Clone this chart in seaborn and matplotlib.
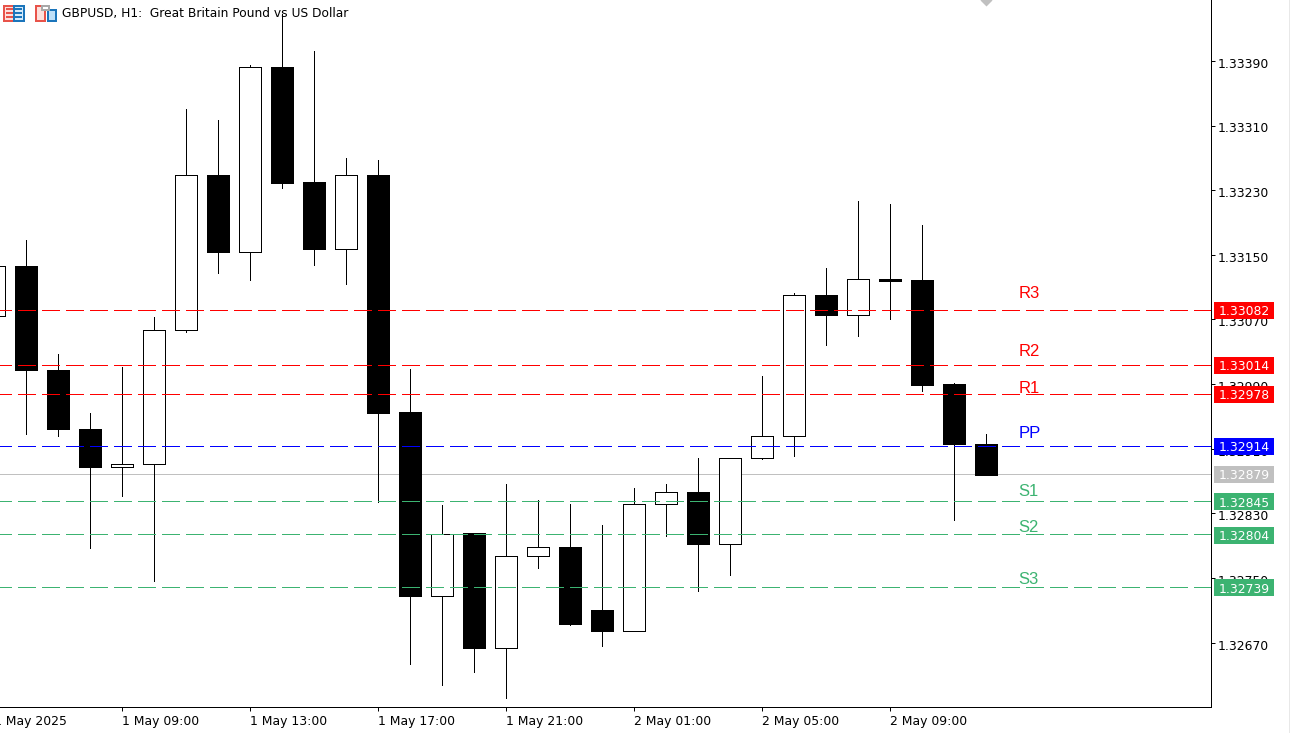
import matplotlib
matplotlib.use("Agg")
import matplotlib.pyplot as plt
import matplotlib.transforms as mtrans
from matplotlib.patches import Rectangle
import pandas as pd
import seaborn as sns

# hourly candles, GBPUSD H1
candle_ids = list(range(-1, 31))
opens = [1.33074, 1.33136, 1.33007, 1.32935, 1.32887, 1.32891, 1.33057, 1.33249,
         1.33153, 1.33383, 1.33240, 1.33157, 1.33249, 1.32955, 1.32728, 1.32806,
         1.32664, 1.32777, 1.32789, 1.32710, 1.32684, 1.32842, 1.32857, 1.32792,
         1.32899, 1.32926, 1.33100, 1.33076, 1.33120, 1.33119, 1.32990, 1.32916]
closes = [1.33136, 1.33007, 1.32934, 1.32887, 1.32891, 1.33057, 1.33249, 1.33153,
          1.33383, 1.33239, 1.33157, 1.33249, 1.32954, 1.32728, 1.32804, 1.32664,
          1.32777, 1.32789, 1.32693, 1.32684, 1.32842, 1.32857, 1.32792, 1.32899,
          1.32926, 1.33100, 1.33076, 1.33120, 1.33118, 1.32989, 1.32916, 1.32878]
highs = [1.33136, 1.33168, 1.33027, 1.32954, 1.33011, 1.33073, 1.33330, 1.33317,
         1.33385, 1.33448, 1.33402, 1.33270, 1.33267, 1.33009, 1.32840, 1.32806,
         1.32867, 1.32847, 1.32842, 1.32816, 1.32862, 1.32866, 1.32899, 1.32899,
         1.33000, 1.33103, 1.33134, 1.33217, 1.33213, 1.33187, 1.32991, 1.32928]
lows = [1.33074, 1.32928, 1.32926, 1.32787, 1.32852, 1.32746, 1.33055, 1.33127,
        1.33119, 1.33233, 1.33138, 1.33114, 1.32844, 1.32644, 1.32618, 1.32634,
        1.32601, 1.32762, 1.32692, 1.32666, 1.32684, 1.32802, 1.32734, 1.32754,
        1.32897, 1.32901, 1.33039, 1.33049, 1.33071, 1.32981, 1.32822, 1.32877]

# pivot levels and the labels over them
level_names = ["R3", "R2", "R1", "PP", "S1", "S2", "S3"]
level_prices = [1.33082, 1.33014, 1.32978, 1.32914, 1.32845, 1.32804, 1.32739]
level_colors = ["#ff0000", "#ff0000", "#ff0000", "#0000ff", "#3cb371", "#3cb371", "#3cb371"]
label_prices = [1.33097, 1.33025, 1.32979, 1.32923, 1.32851, 1.32807, 1.32743]
label_candle = 31
bid_price = 1.32879

price_ticks = [1.33390, 1.33310, 1.33230, 1.33150, 1.33070, 1.32990,
               1.32910, 1.32830, 1.32750, 1.32670]
time_candles = [3, 7, 11, 15, 19, 23, 27]
time_labels = ["1 May 09:00", "1 May 13:00", "1 May 17:00",
               "1 May 21:00", "2 May 01:00", "2 May 05:00", "2 May 09:00"]
first_time_candle = -1
first_time_label = "1 May 2025"
title = "GBPUSD, H1:  Great Britain Pound vs US Dollar"

sns.set_theme(style="white")
plt.rcParams["font.family"] = ["DejaVu Sans"]
plt.rcParams["lines.scale_dashes"] = False
PX = 0.72

fig = plt.figure(figsize=(12.9, 7.33), dpi=100, facecolor="white")
ax = fig.add_axes([0, 26 / 733, 1211 / 1290, 707 / 733])

candles = pd.DataFrame({"id": candle_ids, "open": opens, "close": closes,
                        "high": highs, "low": lows})
wicks = candles.melt(id_vars="id", value_vars=["high", "low"], value_name="price")
sns.lineplot(data=wicks, x="id", y="price", units="id", estimator=None, sort=False,
             color="black", lw=PX, antialiased=False, ax=ax, zorder=2, legend=False)

# bid line sits behind the candles
ax.axhline(bid_price, color="#c0c0c0", lw=PX, antialiased=False, zorder=1)

for row in candles.itertuples():
    up = row.close >= row.open
    ax.bar(row.id, abs(row.close - row.open), bottom=min(row.open, row.close), width=22 / 32,
           facecolor="white" if up else "black", edgecolor="black", linewidth=PX,
           antialiased=False, zorder=3)

for price, color in zip(level_prices, level_colors):
    ax.axhline(price, color=color, lw=PX, antialiased=False, zorder=4,
               linestyle=(6 * PX, (18 * PX, 6 * PX)), dash_capstyle="butt")

for name, price, color in zip(level_names, label_prices, level_colors):
    ax.text(label_candle, price, name, color=color, fontsize=12, family="Liberation Sans",
            va="baseline", ha="left", zorder=5)

for side in ["left", "top"]:
    ax.spines[side].set_visible(False)
for side in ["right", "bottom"]:
    ax.spines[side].set_color("black")
    ax.spines[side].set_linewidth(PX)

ax.set_xlabel("")
ax.set_ylabel("")
ax.yaxis.tick_right()
ax.set_yticks(price_ticks)
ax.set_yticklabels([f"{p:.5f}" for p in price_ticks])
ax.set_xticks(time_candles)
ax.set_xticklabels(time_labels, ha="left")
ax.set_xlim(-0.825, 37.02)
ax.set_ylim(1.325904, 1.334654)
ax.tick_params(axis="y", length=4 * PX, width=PX, color="black", pad=2, labelsize=8.9,
               labelcolor="black", right=True)
ax.tick_params(axis="x", length=4 * PX, width=PX, color="black", pad=3, labelsize=8.9,
               labelcolor="black", bottom=True, labelbottom=True)
nudge = mtrans.ScaledTranslation(0, -1.9 / 100, fig.dpi_scale_trans)
for lab in ax.get_yticklabels():
    lab.set_transform(lab.get_transform() + nudge)

# the first date label belongs to a candle just off the left edge
ax.annotate(first_time_label, xy=(first_time_candle, 0), xycoords=ax.get_xaxis_transform(),
            xytext=(0, -(4 * PX + 3)), textcoords="offset points", fontsize=8.9, color="black",
            ha="left", va="top", annotation_clip=False)

# price tags on the right scale
px_y = mtrans.blended_transform_factory(mtrans.IdentityTransform(), ax.transData)
tag_h = 17 / 80760
tag_drop = 0.6 / 80760
tag_prices = level_prices + [bid_price]
tag_colors = level_colors + ["#c0c0c0"]
for price, color in zip(tag_prices, tag_colors):
    ax.add_patch(Rectangle((1214, price - tag_h / 2 - tag_drop), 60, tag_h, transform=px_y,
                           facecolor=color, edgecolor="none", clip_on=False, zorder=6,
                           antialiased=False))
    ax.text(1244, price - tag_drop, f"{price:.5f}", transform=px_y, color="white", fontsize=8.9,
            ha="center", va="center_baseline", zorder=7, clip_on=False)

# grey marker at the top edge, over the last candle
ax.plot([candle_ids[-1]], [ax.get_ylim()[1]], marker="D", ms=6, color="#c0c0c0", mec="none",
        clip_on=True, zorder=2)

# chart window icons and title
px_fig = mtrans.IdentityTransform()
def box(x, y, w, h, fc, ec, lw=1.44):
    fig.add_artist(Rectangle((x, 733 - y - h), w, h, transform=px_fig, facecolor=fc, edgecolor=ec,
                             linewidth=lw))

box(4, 6, 10, 15, "#fde0dc", "#e8534a")
box(14, 6, 10, 15, "#d5eafa", "#1b75bb")
for row_y in [8, 12, 16]:
    box(6, row_y, 7, 1.6, "#e8534a", "none", 0)
    box(15, row_y, 7, 1.6, "#1b75bb", "none", 0)
box(36, 6, 9, 15, "#fde0dc", "#e8534a")
box(48, 10, 8, 11, "#bfe0f8", "#1b75bb")
box(42, 6, 7, 4, "#ffffff", "#a8a8a8")

# thin window edge on the far right
box(1289, 0, 1, 733, "#e8e8e8", "none", 0)

fig.text(62 / 1290, 1 - 14 / 733, title, fontsize=8.8, color="black", va="center", ha="left",
         zorder=8)

fig.savefig("out.png", dpi=100, facecolor="white")
